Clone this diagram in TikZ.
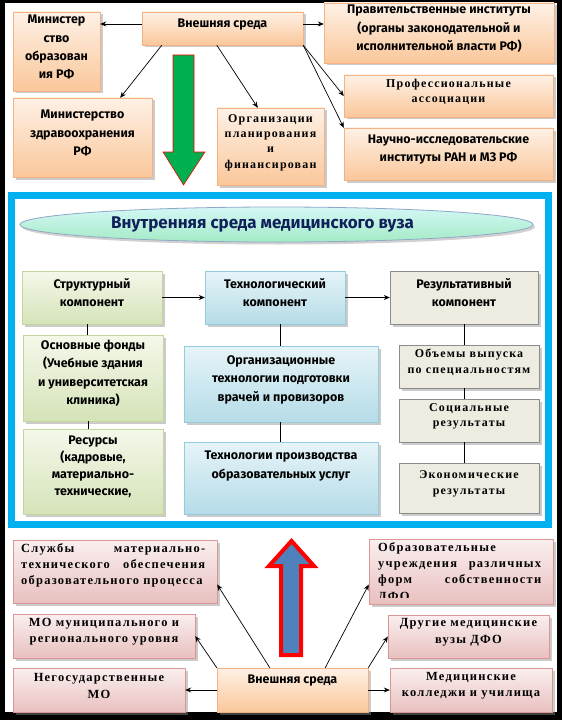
\documentclass[tikz,border=0pt]{standalone}
\usepackage{fontspec}
\setmainfont{Fira Sans}
\newfontfamily\tms[LetterSpace=10]{Liberation Serif}
\usetikzlibrary{shadows,fit,arrows.meta,shapes.geometric}
\definecolor{peachT}{HTML}{FEF1E6}
\definecolor{peachB}{HTML}{FAC79A}
\definecolor{peachD}{HTML}{F4B183}
\definecolor{greenT}{HTML}{F4F8EA}
\definecolor{greenB}{HTML}{D5E3B8}
\definecolor{greenD}{HTML}{C3D69B}
\definecolor{blueT}{HTML}{E6F4F8}
\definecolor{blueB}{HTML}{B5DCE8}
\definecolor{blueD}{HTML}{93CDDD}
\definecolor{beige}{HTML}{EEECE1}
\definecolor{beigeD}{HTML}{8C8C8C}
\definecolor{pinkT}{HTML}{FAEFEF}
\definecolor{pinkB}{HTML}{E8C0BF}
\definecolor{pinkD}{HTML}{D99694}
\definecolor{frameC}{HTML}{00B0F0}
\definecolor{ellT}{HTML}{D4F7F6}
\definecolor{ellB}{HTML}{A4EBC6}
\definecolor{ellD}{HTML}{8FA8C8}
\definecolor{navy}{HTML}{10205A}
\definecolor{greenArr}{HTML}{00B050}
\definecolor{blueArr}{HTML}{4F81BD}
\definecolor{redArr}{HTML}{FF0000}
\tikzset{
  box/.style={rectangle, inner sep=0pt, align=center,
    drop shadow={shadow xshift=2.5bp, shadow yshift=-2.5bp, fill=black!45, opacity=.45}},
  peach/.style={box, draw=peachD, top color=peachT, bottom color=peachB},
  greenbox/.style={box, draw=greenD, top color=greenT, bottom color=greenB},
  bluebox/.style={box, draw=blueD, top color=blueT, bottom color=blueB},
  beigebox/.style={box, draw=beigeD, fill=beige},
  pinkbox/.style={box, draw=pinkD, top color=pinkT, bottom color=pinkB},
  comic/.style={font=\bfseries\fontsize{12.5}{18.5}\selectfont},
  serif/.style={font=\tms\bfseries\fontsize{12}{15.5}\selectfont},
  serifbig/.style={font=\tms\bfseries\fontsize{12.5}{16.5}\selectfont},
  conn/.style={-{Stealth[length=6bp,width=5bp]}, line width=0.7bp},
  plain/.style={line width=0.8bp},
}
\begin{document}
\begin{tikzpicture}[x=1bp,y=-1bp]
\useasboundingbox (0,0) rectangle (562,720);
\fill[black] (0,0) rectangle (562,720);
\fill[white] (5,3) rectangle (557,712);

% ---- top external environment ----
\node[peach, comic, fit={(13,12) (100,91)}] (minobr) {Министер\\ство\\образован\\ия РФ};
\node[peach, comic, fit={(142,12) (303,45)}] (ext1) {Внешняя среда};
\node[peach, comic, fit={(324,3) (554,63)}] (gov) {Правительственные институты\\(органы законодательной и\\исполнительной власти РФ)};
\node[peach, serif, fit={(344,75) (553,117)}] (prof) {Профессиональные\\ассоциации};
\node[peach, comic, fit={(344,128) (553,180)}] (nii) {Научно-исследовательские\\институты РАН и МЗ РФ};
\node[peach, comic, fit={(13,98) (152,177)}] (minzd) {Министерство\\здравоохранения\\РФ};
\node[peach, serif, fit={(217,108) (324,185)}] (org) {Организации\\планирования\\и\\финансирован};

\draw[conn] ([yshift=4.5bp]ext1.west) -- ([yshift=4.5bp]ext1.west -| minobr.east);
\draw[conn] ([xshift=20bp]ext1.south west) -- ([xshift=-32bp]minzd.north east);
\draw[conn] ([xshift=75bp]ext1.south west) -- ([xshift=41bp]org.north west);
\draw[conn] ([yshift=4.5bp]ext1.east) -- ([yshift=4.5bp]ext1.east -| gov.west);
\draw[conn] (ext1.south east) -- (prof.west);
\draw[conn] (ext1.south east) -- (nii.north west);

\draw[red, line width=0.6bp, fill=greenArr]
  (173,55) -- (194,55) -- (194,152) -- (205,152) -- (183.5,185) -- (163,152) -- (173,152) -- cycle;

% ---- internal environment frame ----
\draw[frameC, line width=7bp] (11.5,195) rectangle (548,524);

\node[ellipse, draw=ellD, line width=0.8bp, top color=ellT, bottom color=ellB,
  minimum width=513bp, minimum height=35bp, inner sep=0pt,
  drop shadow={shadow xshift=2bp, shadow yshift=-2.5bp, fill=black!45, opacity=.4},
  text=navy, font=\bfseries\fontsize{17}{19}\selectfont] (ell) at (276.5,224.5)
  {\hspace*{-28bp}Внутренняя среда медицинского вуза};

\node[greenbox, comic, fit={(22,271) (162,324)}] (str) {Структурный\\компонент};
\node[bluebox, comic, fit={(205,271) (345,324)}] (tech) {Технологический\\компонент};
\node[beigebox, comic, fit={(390,271) (538,324)}] (res) {Результативный\\компонент};
\node[greenbox, comic, fit={(23,335) (163,421)}] (osn) {Основные фонды\\(Учебные здания\\и университетская\\клиника)};
\node[greenbox, comic, fit={(23,429) (163,514)}, font=\bfseries\fontsize{12.5}{17}\selectfont] (resu) {Ресурсы\\(кадровые,\\материально-\\технические,};
\node[bluebox, comic, fit={(184,346) (378,422)}] (orgt) {Организационные\\технологии подготовки\\врачей и провизоров};
\node[bluebox, comic, fit={(184,442) (378,514)}] (prod) {Технологии производства\\образовательных услуг\\~};
\node[beigebox, serif, fit={(399,345) (539,388)}] (vyp) {Объемы выпуска\\по специальностям};
\node[beigebox, serif, fit={(399,399) (539,442)}] (soc) {Социальные\\результаты};
\node[beigebox, serif, fit={(399,463) (539,513)}] (eco) {Экономические\\результаты};

\draw[conn] (str.east) -- (tech.west);
\draw[conn] (tech.east) -- (res.west);
\draw[plain] ([xshift=-5bp]str.south) -- ([xshift=-5bp]str.south |- osn.north);
\draw[plain] ([xshift=-5bp]osn.south) -- ([xshift=-5bp]osn.south |- resu.north);
\draw[plain] ([xshift=-1bp]orgt.north) -- ([xshift=-1bp]orgt.north |- tech.south);
\draw[plain] ([xshift=-1bp]orgt.south) -- ([xshift=-1bp]orgt.south |- prod.north);
\draw[plain] (res.south) -- (res.south |- vyp.north);
\draw[plain] (res.south |- vyp.south) -- (res.south |- soc.north);
\draw[plain] (res.south |- soc.south) -- (res.south |- eco.north);

% ---- bottom external environment ----
\draw[redArr, line width=4bp, line join=miter, fill=blueArr]
  (281,655) -- (281,566) -- (269,566) -- (291.5,541) -- (314,566) -- (301,566) -- (301,655) -- cycle;

\node[pinkbox, fit={(13,540) (217,603)}] (sl) {};
\node[serifbig, inner sep=0pt, text width=184bp, align=left, anchor=north west] (sltext) at (21,543)
  {Службы\hfill материально-\\технического\hfill обеспечения\\образовательного процесса};
\node[pinkbox, serifbig, fit={(13,614) (195,658)}] (mo) {МО муниципального и\\регионального уровня};
\node[pinkbox, serifbig, fit={(13,668) (185,712)}] (neg) {Негосударственные\\МО};
\node[peach, comic, fit={(217,668) (368,712)}] (ext2) {\raisebox{7bp}{Внешняя среда}};
\node[pinkbox, fit={(369,539) (553,604)}] (obr) {};
\begin{scope}
  \clip ([xshift=2bp]obr.north west) rectangle ([yshift=7bp]obr.south east);
  \node[serifbig, inner sep=0pt, text width=163bp, align=left, anchor=north west] (obrtext) at (378,542)
    {Образовательные\\учреждения\hfill различных\\форм\hfill собственности\\ДФО};
\end{scope}
\node[pinkbox, serifbig, fit={(388,615) (549,658)}] (dr) {Другие медицинские\\вузы ДФО};
\node[pinkbox, serifbig, fit={(390,668) (552,712)}] (kol) {Медицинские\\колледжи и училища};

\draw[conn] (ext2.west) -- (ext2.west -| neg.east);
\draw[conn] (ext2.north west) -- (mo.east);
\draw[conn] ([xshift=53bp]ext2.north west) -- ([yshift=-13bp]sl.east);
\draw[conn] ([xshift=-43bp]ext2.north east) -- ([yshift=-13bp]obr.west);
\draw[conn] (ext2.north east) -- (dr.west);
\draw[conn] (ext2.east) -- (ext2.east -| kol.west);
\end{tikzpicture}
\end{document}
